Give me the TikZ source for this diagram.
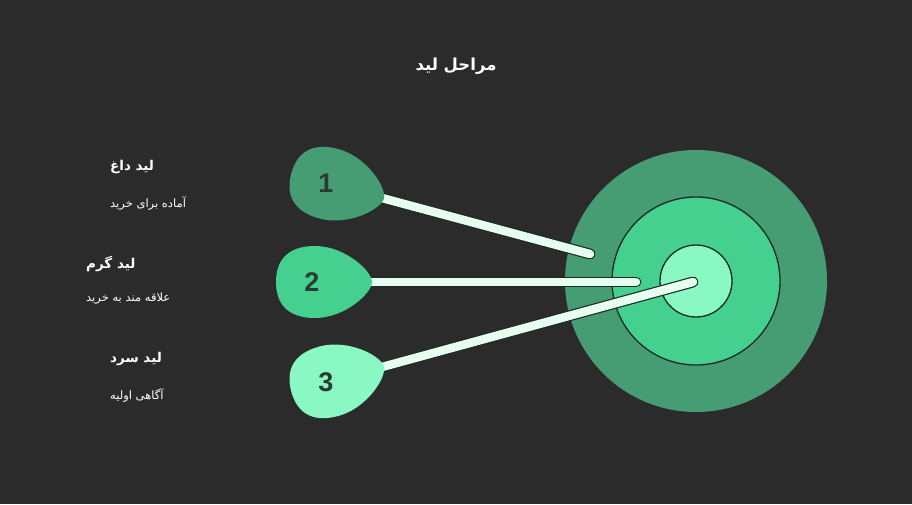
\documentclass[tikz,border=0pt]{standalone}
\usepackage{fontspec}
\usepackage{xcolor}
\setmainfont{Liberation Sans}
\newfontfamily\farsi[Script=Arabic]{DejaVu Sans}
\TeXXeTstate=1

\definecolor{bgcol}{HTML}{2B2B2B}
\definecolor{ringA}{HTML}{469D74}
\definecolor{ringB}{HTML}{45D08F}
\definecolor{ringC}{HTML}{8AF8C2}
\definecolor{stickcol}{HTML}{E6FFF0}
\definecolor{edgecol}{HTML}{1C2B22}
\definecolor{numcol}{HTML}{2A3B33}

\tikzset{
  pick/.pic={
    \fill[pic actions] (2,0) .. controls (2,11) and (-25,36) .. (-55,36)
      .. controls (-84,36) and (-94,20) .. (-94,0)
      .. controls (-94,-20) and (-84,-36) .. (-55,-36)
      .. controls (-25,-36) and (2,-11) .. (2,0);
    \node[num] (-num) at (-58,0) {#1};
  }
}

\begin{document}
\begin{tikzpicture}[x=1pt,y=-1pt,
  ring/.style={circle,draw=edgecol,line width=1.3pt,inner sep=0pt},
  stick/.style={draw=edgecol,double=stickcol,double distance=8.5pt,line width=1.2pt,line cap=round},
  num/.style={font=\fontsize{27}{27}\selectfont\bfseries,text=numcol},
  title/.style={font=\farsi\fontsize{16.5}{20}\selectfont\bfseries,text=white},
  head/.style={font=\farsi\fontsize{13.5}{16}\selectfont\bfseries,text=white,anchor=west,inner sep=0pt},
  sub/.style={font=\farsi\fontsize{11.5}{14}\selectfont,text=white,anchor=west,inner sep=0pt}]
\fill[bgcol] (0,0) rectangle (912,504);
\useasboundingbox (0,0) rectangle (912,504);

\node[title] (title) at (456,66) {\beginR مراحل لید\endR};

% target
\node[circle,fill=ringA,minimum size=262pt,inner sep=0pt] (outer) at (696,281) {};
\node[ring,fill=ringB,minimum size=168pt] (middle) at (outer.center) {};
\node[ring,fill=ringC,minimum size=72pt] (inner) at (outer.center) {};

\coordinate (tip1) at (382,198);
\coordinate (tip2) at (370,282);
\coordinate (tip3) at (382,367);
\coordinate (end1) at (590,254);
\coordinate (end2) at (636,282);
\coordinate (end3) at (693,282);

\draw[stick] (tip1) -- (end1);
\draw[stick] (tip2) -- (end2);
\draw[stick] (tip3) -- (end3);

\pic[fill=ringA,rotate=-15] (p1) at (tip1) {pick=1};
\pic[fill=ringB] (p2) at (tip2) {pick=2};
\pic[fill=ringC,rotate=15] (p3) at (tip3) {pick=3};

% labels
\node[head] (h1) at (110,167) {\beginR لید داغ\endR};
\node[sub] (s1) at (110,203) {\beginR آماده برای خرید\endR};
\node[head] (h2) at (86,264) {\beginR لید گرم\endR};
\node[sub] (s2) at (86,299) {\beginR علاقه مند به خرید\endR};
\node[head] (h3) at (110,359) {\beginR لید سرد\endR};
\node[sub] (s3) at (110,395) {\beginR آگاهی اولیه\endR};
\end{tikzpicture}
\end{document}
